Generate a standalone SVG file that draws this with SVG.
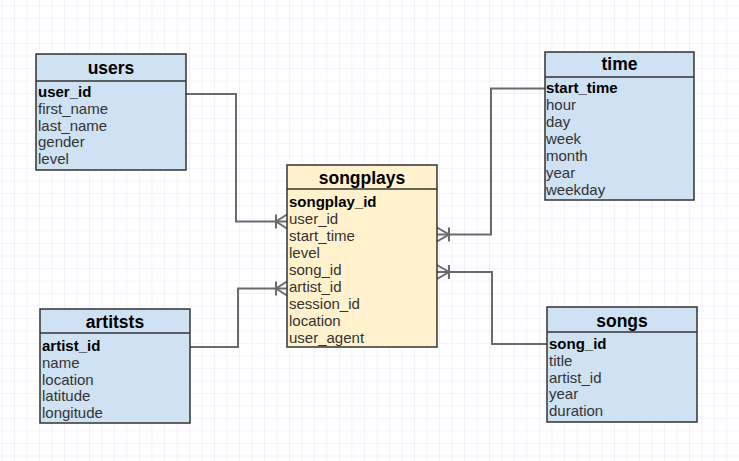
<svg xmlns="http://www.w3.org/2000/svg" width="739" height="461" viewBox="0 0 739 461">
<defs>
<pattern id="grid" patternUnits="userSpaceOnUse" x="1.5" y="5.5" width="12.5" height="12.5">
<path d="M0 0H12.5M0 0V12.5" fill="none" stroke="#ebe8fb" stroke-width="1.2"/>
</pattern>
</defs>
<style>
.ent{fill:#cfe2f3;stroke:#333;stroke-width:1.5}
.fact{fill:#fff2cc;stroke:#333;stroke-width:1.5}
.div{stroke:#333;stroke-width:1.5}
.hd{font-family:"Liberation Sans",Arial,sans-serif;font-size:17.5px;font-weight:bold;fill:#000;text-anchor:middle}
.row{font-family:"Liberation Sans",Arial,sans-serif;font-size:15px;fill:#333}
.pk{font-weight:bold;fill:#000}
.con{fill:none;stroke:#6b6b6b;stroke-width:2}
</style>
<rect width="739" height="461" fill="#fff"/>
<rect width="739" height="461" fill="url(#grid)"/>

<g id="connectors">
<path class="con" d="M186 94H236V221.5H287"/>
<path class="con" d="M276 214.5V228.5M287 214.5L276 221.5L287 228.5"/>
<path class="con" d="M190 347H238V288.5H287"/>
<path class="con" d="M276 281.5V295.5M287 281.5L276 288.5L287 295.5"/>
<path class="con" d="M545 88.5H491V234.5H437"/>
<path class="con" d="M449 227.5V241.5M437 227.5L449 234.5L437 241.5"/>
<path class="con" d="M547 344H492V272H437"/>
<path class="con" d="M449 265V279M437 265L449 272L437 279"/>
</g>

<g id="users">
<rect class="ent" x="36" y="54" width="150" height="116"/>
<line class="div" x1="36" y1="81" x2="186" y2="81"/>
<text class="hd" x="111" y="74">users</text>
<text class="row pk" x="38" y="97">user_id</text>
<text class="row" x="38" y="113.8">first_name</text>
<text class="row" x="38" y="130.6">last_name</text>
<text class="row" x="38" y="147.4">gender</text>
<text class="row" x="38" y="164.2">level</text>
</g>

<g id="songplays">
<rect class="fact" x="287" y="165" width="150" height="182"/>
<line class="div" x1="287" y1="189" x2="437" y2="189"/>
<text class="hd" x="362" y="184">songplays</text>
<text class="row pk" x="289" y="207">songplay_id</text>
<text class="row" x="289" y="224">user_id</text>
<text class="row" x="289" y="241">start_time</text>
<text class="row" x="289" y="258">level</text>
<text class="row" x="289" y="275">song_id</text>
<text class="row" x="289" y="292">artist_id</text>
<text class="row" x="289" y="309">session_id</text>
<text class="row" x="289" y="326">location</text>
<text class="row" x="289" y="343">user_agent</text>
</g>

<g id="time">
<rect class="ent" x="545" y="52" width="149" height="148"/>
<line class="div" x1="545" y1="77" x2="694" y2="77"/>
<text class="hd" x="619.5" y="70">time</text>
<text class="row pk" x="546" y="93">start_time</text>
<text class="row" x="546" y="110">hour</text>
<text class="row" x="546" y="127">day</text>
<text class="row" x="546" y="144">week</text>
<text class="row" x="546" y="161">month</text>
<text class="row" x="546" y="177.5">year</text>
<text class="row" x="546" y="195">weekday</text>
</g>

<g id="artitsts">
<rect class="ent" x="40" y="309" width="150" height="114"/>
<line class="div" x1="40" y1="333" x2="190" y2="333"/>
<text class="hd" x="115" y="328">artitsts</text>
<text class="row pk" x="42" y="351">artist_id</text>
<text class="row" x="42" y="367.8">name</text>
<text class="row" x="42" y="384.6">location</text>
<text class="row" x="42" y="401.4">latitude</text>
<text class="row" x="42" y="418.2">longitude</text>
</g>

<g id="songs">
<rect class="ent" x="547" y="307" width="150" height="115"/>
<line class="div" x1="547" y1="332" x2="697" y2="332"/>
<text class="hd" x="622" y="327">songs</text>
<text class="row pk" x="549" y="349">song_id</text>
<text class="row" x="549" y="365.8">title</text>
<text class="row" x="549" y="382.6">artist_id</text>
<text class="row" x="549" y="399.4">year</text>
<text class="row" x="549" y="416.2">duration</text>
</g>
</svg>
